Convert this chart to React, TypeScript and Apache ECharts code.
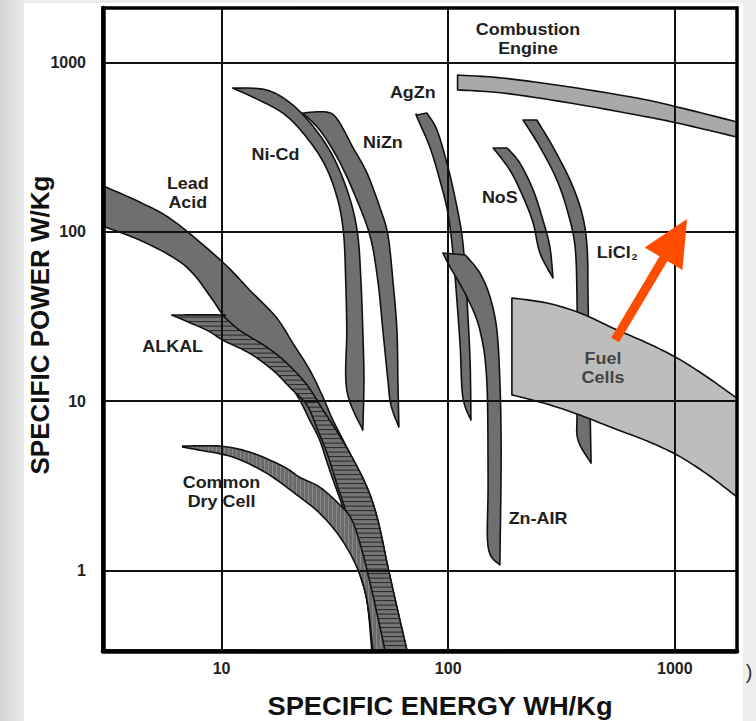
import React, { useEffect, useRef } from 'react';
import * as echarts from 'echarts';

type P = [number, number];

// Axis extents (Wh/kg and W/kg, log scale)
const X_MIN = 3;
const X_MAX = 1880;
const Y_MIN = 0.335;
const Y_MAX = 2100;
const xTicks = [10, 100, 1000];
const yTicks = [1, 10, 100, 1000];

// Outlines of each technology region [specific energy Wh/kg, specific power W/kg]
const leadAcid: P[] = [
  [3, 187], [4.35, 150], [6.09, 117], [10.0, 67.3], [13.3, 45.4], [17.4, 31.4], [20.6, 22.1],
  [24.5, 15.3], [28.0, 10.6], [31.0, 7.74], [36.8, 4.94], [43.8, 3.11], [48.9, 1.99], [54.2, 1.05],
  [59.4, 0.608], [65.7, 0.34],
  [46.0, 0.34], [43.8, 0.669], [39.9, 1.05], [35.7, 1.99], [30.0, 3.92], [27.1, 5.9], [24.5, 7.74],
  [22.1, 10.2], [19.4, 13.3], [15.8, 18.7], [12.0, 25.6], [10.3, 31.4], [9.15, 39.6], [7.46, 57.1],
  [6.09, 71.0], [4.35, 89.5], [3, 108],
];
const alkaline: P[] = [
  [6.03, 32.3], [10.0, 32.3], [10.3, 31.4], [12.0, 26.3], [15.8, 20.9], [19.4, 16.8], [23.8, 12.5],
  [27.7, 9.11], [31.0, 7.23], [36.8, 4.94], [43.8, 3.11], [48.9, 1.99], [54.2, 1.05], [59.4, 0.608],
  [65.7, 0.34],
  [46.5, 0.34], [43.8, 0.669], [39.5, 1.15], [35.7, 2.13], [32.6, 3.11], [29.4, 4.81], [26.6, 6.75],
  [23.8, 9.49], [20.0, 12.1], [16.8, 15.3], [13.3, 19.2], [10.1, 23.0], [8.6, 26.3],
];
const dryCell: P[] = [
  [6.74, 5.43], [9.82, 5.43], [13.3, 5.01], [18.6, 4.14], [22.1, 3.56], [27.1, 3.11], [33.3, 2.44],
  [37.6, 1.99], [41.6, 1.32], [46.0, 0.767], [52.6, 0.34],
  [46.5, 0.34], [43.8, 0.669], [39.5, 1.05], [33.3, 1.58], [27.1, 2.18], [22.1, 2.72], [15.8, 3.76],
  [11.2, 4.68], [8.01, 5.14], [6.74, 5.36],
];
const niCd: P[] = [
  [11.2, 707], [15.8, 689], [20.6, 562], [26.3, 394], [31.6, 266], [36.8, 158], [39.9, 95.8],
  [41.2, 51.9], [42.0, 26.3], [42.5, 13.3], [42.0, 6.75],
  [35.7, 11.6], [35.7, 26.3], [35.3, 51.9], [34.6, 95.8], [32.6, 154], [28.6, 248], [23.3, 373],
  [18.6, 504], [13.7, 626],
];
const niZn: P[] = [
  [22.8, 504], [29.1, 510], [32.6, 458], [37.9, 317], [43.8, 223], [49.9, 140], [54.2, 95.8],
  [57.0, 51.9], [59.4, 26.3], [60.0, 13.3], [60.6, 7.04],
  [55.9, 9.49], [54.2, 13.3], [51.5, 26.3], [48.9, 51.9], [45.1, 95.8], [37.9, 177], [32.3, 277],
  [27.1, 400],
];
const agZn: P[] = [
  [72.8, 490], [80.5, 504], [89.2, 400], [98.7, 255], [107, 161], [115, 95.8], [119, 57.1],
  [122, 33.2], [125, 16.8], [126, 7.74],
  [116, 10.6], [113, 20.9], [109, 41.2], [105, 75.0], [99.7, 129], [91.9, 202], [83.0, 317],
  [72.8, 477],
];
const znAir: P[] = [
  [94.8, 75.0], [119, 73.0], [138, 57.1], [153, 41.2], [164, 26.3], [169, 13.3], [171, 6.75],
  [171, 3.42], [169, 1.08],
  [150, 1.38], [150, 3.42], [148, 13.3], [138, 26.3], [121, 41.2], [102, 62.0],
];
const naS: P[] = [
  [158, 313], [182, 313], [207, 255], [237, 177], [262, 117], [281, 81.4], [290, 53.4],
  [254, 75.0], [237, 113], [214, 161], [187, 232],
];
const liCl2: P[] = [
  [214, 458], [246, 458], [290, 317], [345, 202], [389, 129], [410, 81.4], [414, 41.2],
  [418, 20.9], [423, 8.51], [427, 4.31],
  [374, 5.9], [370, 8.51], [370, 20.9], [370, 41.2], [363, 81.4], [338, 129], [302, 202], [254, 317],
];
const combustion: P[] = [
  [110, 844], [174, 810], [345, 717], [681, 617], [1023, 547], [1880, 446],
  [1880, 363], [1023, 440], [681, 490], [345, 577], [174, 661], [110, 689],
];
const fuelCells: P[] = [
  [191, 40.7], [273, 38.0], [382, 33.2], [534, 27.0], [754, 22.1], [1023, 18.0], [1388, 13.9],
  [1880, 10.4],
  [1880, 2.72], [1388, 3.71], [1023, 4.81], [754, 5.82], [534, 6.94], [382, 8.28], [273, 9.62],
  [191, 10.9],
];
const arrowPath: P[] = [[545, 23.0], [1132, 119]];

// Region labels
const labelTexts = ['Combustion\nEngine', 'AgZn', 'NiZn', 'Ni-Cd', 'Lead\nAcid', 'ALKAL',
  'Common\nDry Cell', 'NoS', 'LiCl2', 'Fuel\nCells', 'Zn-AIR'];
const labelX = [225, 69.8, 51.5, 17.3, 7.1, 6.09, 10.0, 169, 556, 482, 249];
const labelY = [1368, 661, 335, 284, 168, 20.9, 2.89, 158, 75.0, 15.6, 2.01];

const FONT = '"Liberation Sans", Arial, Helvetica, sans-serif';
const BAND = '#6f6f6f';
const OUTLINE = '#111';

// Smooth an outline through its vertices (Catmull-Rom), keeping sharp corners sharp.
function smoothOutline(px: number[][]): number[][] {
  const n = px.length;
  const isCorner = px.map((p, i) => {
    const a = px[(i - 1 + n) % n];
    const c = px[(i + 1) % n];
    const v1x = p[0] - a[0], v1y = p[1] - a[1];
    const v2x = c[0] - p[0], v2y = c[1] - p[1];
    const l1 = Math.hypot(v1x, v1y), l2 = Math.hypot(v2x, v2y);
    if (l1 < 1e-6 || l2 < 1e-6) return true;
    return (v1x * v2x + v1y * v2y) / (l1 * l2) < Math.cos(Math.PI / 4);
  });
  const first = isCorner.indexOf(true);
  if (first < 0) return px;
  const out: number[][] = [];
  let i = first;
  let guard = 0;
  do {
    const run: number[][] = [px[i]];
    let j = (i + 1) % n;
    while (!isCorner[j]) {
      run.push(px[j]);
      j = (j + 1) % n;
    }
    run.push(px[j]);
    for (let k = 0; k < run.length - 1; k++) {
      const p0 = run[k - 1] || run[k];
      const p1 = run[k];
      const p2 = run[k + 1];
      const p3 = run[k + 2] || run[k + 1];
      const c1 = [p1[0] + (p2[0] - p0[0]) / 6, p1[1] + (p2[1] - p0[1]) / 6];
      const c2 = [p2[0] - (p3[0] - p1[0]) / 6, p2[1] - (p3[1] - p1[1]) / 6];
      const steps = run.length > 2 ? 8 : 1;
      for (let s = 0; s < steps; s++) {
        const t = s / steps;
        const u = 1 - t;
        out.push([
          u * u * u * p1[0] + 3 * u * u * t * c1[0] + 3 * u * t * t * c2[0] + t * t * t * p2[0],
          u * u * u * p1[1] + 3 * u * u * t * c1[1] + 3 * u * t * t * c2[1] + t * t * t * p2[1],
        ]);
      }
    }
    i = j;
    guard++;
  } while (i !== first && guard < 1000);
  return out;
}

function hatchLines(pts: number[][], dir: 'h' | 'v', step: number) {
  const out: any[] = [];
  const idx = dir === 'h' ? 1 : 0;
  const oth = dir === 'h' ? 0 : 1;
  const vals = pts.map((p) => p[idx]);
  const lo = Math.min(...vals);
  const hi = Math.max(...vals);
  for (let s = lo + step / 2; s < hi; s += step) {
    const xs: number[] = [];
    for (let i = 0; i < pts.length; i++) {
      const a = pts[i];
      const b = pts[(i + 1) % pts.length];
      if ((a[idx] <= s && b[idx] > s) || (b[idx] <= s && a[idx] > s)) {
        xs.push(a[oth] + ((s - a[idx]) / (b[idx] - a[idx])) * (b[oth] - a[oth]));
      }
    }
    xs.sort((p, q) => p - q);
    for (let k = 0; k + 1 < xs.length; k += 2) {
      out.push(dir === 'h'
        ? { x1: xs[k] + 0.8, y1: s, x2: xs[k + 1] - 0.8, y2: s }
        : { x1: s, y1: xs[k] + 0.8, x2: s, y2: xs[k + 1] - 0.8 });
    }
  }
  return out;
}

function band(name: string, pts: P[], fill: string, hatch?: { dir: 'h' | 'v'; step: number; color: string; width: number }) {
  return {
    type: 'custom',
    name,
    coordinateSystem: 'cartesian2d',
    data: pts,
    encode: { x: 0, y: 1 },
    z: 2,
    silent: true,
    renderItem: (params: any, api: any) => {
      if (params.dataIndex !== 0) return null;
      const px = smoothOutline(pts.map((p) => api.coord(p)));
      const children: any[] = [
        { type: 'polygon', shape: { points: px }, style: { fill, stroke: 'none' } },
      ];
      if (hatch) {
        hatchLines(px, hatch.dir, hatch.step).forEach((l) => {
          children.push({ type: 'line', shape: l, style: { stroke: hatch.color, lineWidth: hatch.width } });
        });
      }
      children.push({
        type: 'polygon',
        shape: { points: px },
        style: { fill: 'none', stroke: OUTLINE, lineWidth: 1.6, lineJoin: 'round' },
      });
      return { type: 'group', children };
    },
  };
}

function isPow10(v: number, list: number[]) {
  return list.some((t) => Math.abs(v - t) / t < 1e-6);
}

function buildOption(): any {
  const labelSeries = {
    type: 'custom',
    name: 'labels',
    coordinateSystem: 'cartesian2d',
    data: labelX.map((x, i) => [x, labelY[i]]),
    encode: { x: 0, y: 1 },
    z: 3,
    silent: true,
    renderItem: (params: any, api: any) => {
      const i = params.dataIndex;
      const pt = api.coord([labelX[i], labelY[i]]);
      const txt = labelTexts[i];
      const isFuel = txt.startsWith('Fuel');
      const base: any = {
        fontSize: 16,
        fontWeight: 'bold',
        fontFamily: FONT,
        fill: isFuel ? '#444' : '#1e1e1e',
        align: 'center',
        verticalAlign: 'middle',
        lineHeight: 19,
      };
      if (txt === 'LiCl2') {
        base.text = '{m|LiCl}{s|2}';
        base.rich = {
          m: { fontSize: 16, fontWeight: 'bold', fontFamily: FONT, fill: '#1e1e1e' },
          s: { fontSize: 9, fontWeight: 'bold', fontFamily: FONT, fill: '#1e1e1e', padding: [7, 0, 0, 1] },
        };
      } else {
        base.text = txt;
      }
      return { type: 'text', x: pt[0], y: pt[1], scaleX: 1.12, style: base };
    },
  };

  const arrowSeries = {
    type: 'custom',
    name: 'trend',
    coordinateSystem: 'cartesian2d',
    data: arrowPath,
    encode: { x: 0, y: 1 },
    z: 20,
    silent: true,
    renderItem: (params: any, api: any) => {
      if (params.dataIndex !== 0) return null;
      const a = api.coord(arrowPath[0]);
      const b = api.coord(arrowPath[1]);
      const dx = b[0] - a[0];
      const dy = b[1] - a[1];
      const len = Math.hypot(dx, dy);
      const ux = dx / len, uy = dy / len;
      const nx = -uy, ny = ux;
      const headLen = 46, headHalf = 22, shaftHalf = 4.6;
      const bx = b[0] - ux * headLen, by = b[1] - uy * headLen;
      const ex = bx + ux * 4, ey = by + uy * 4;
      const color = '#ff4d00';
      return {
        type: 'group',
        children: [
          {
            type: 'polygon',
            shape: {
              points: [
                [a[0] + nx * shaftHalf, a[1] + ny * shaftHalf],
                [ex + nx * shaftHalf, ey + ny * shaftHalf],
                [ex - nx * shaftHalf, ey - ny * shaftHalf],
                [a[0] - nx * shaftHalf, a[1] - ny * shaftHalf],
              ],
            },
            style: { fill: color },
          },
          {
            type: 'polygon',
            shape: {
              points: [
                [b[0], b[1]],
                [bx + nx * headHalf, by + ny * headHalf],
                [bx - nx * headHalf, by - ny * headHalf],
              ],
            },
            style: { fill: color },
          },
        ],
      };
    },
  };

  const axisCommon = {
    type: 'log',
    logBase: 10,
    z: 10,
    axisTick: { show: false },
    minorTick: { show: false },
    splitLine: { show: true, lineStyle: { color: '#111', width: 2 } },
    axisLine: { show: true, onZero: false, lineStyle: { color: '#000', width: 4.5 } },
  };

  return {
    animation: false,
    backgroundColor: 'transparent',
    grid: {
      left: 103,
      right: 19,
      top: 8,
      bottom: 70,
      show: true,
      z: 12,
      backgroundColor: 'transparent',
      borderColor: '#000',
      borderWidth: 3.5,
    },
    xAxis: {
      ...axisCommon,
      min: X_MIN,
      max: X_MAX,
      axisLabel: {
        formatter: (v: number) => (isPow10(v, xTicks) ? String(Math.round(v)) : ''),
        fontSize: 16,
        fontWeight: 'bold',
        fontFamily: FONT,
        color: '#222',
        margin: 9,
      },
    },
    yAxis: {
      ...axisCommon,
      min: Y_MIN,
      max: Y_MAX,
      axisLabel: {
        formatter: (v: number) => (isPow10(v, yTicks) ? String(Math.round(v)) : ''),
        fontSize: 16,
        fontWeight: 'bold',
        fontFamily: FONT,
        color: '#222',
        margin: 17,
      },
    },
    graphic: [
      {
        type: 'text',
        x: 440,
        y: 706,
        scaleX: 1.05,
        z: 30,
        silent: true,
        style: {
          text: 'SPECIFIC ENERGY WH/Kg',
          fontSize: 26,
          fontWeight: 'bold',
          fontFamily: FONT,
          fill: '#111',
          align: 'center',
          verticalAlign: 'middle',
        },
      },
      {
        type: 'text',
        x: 40,
        y: 325,
        rotation: Math.PI / 2,
        z: 30,
        silent: true,
        style: {
          text: 'SPECIFIC POWER W/Kg',
          fontSize: 26,
          fontWeight: 'bold',
          fontFamily: FONT,
          fill: '#111',
          align: 'center',
          verticalAlign: 'middle',
        },
      },
      {
        type: 'text',
        x: 749,
        y: 672,
        z: 30,
        silent: true,
        style: {
          text: ')',
          fontSize: 20,
          fontFamily: FONT,
          fill: '#333',
          align: 'center',
          verticalAlign: 'middle',
        },
      },
    ],
    series: [
      band('Lead Acid', leadAcid, BAND),
      band('ALKAL', alkaline, '#747474', { dir: 'h', step: 4.5, color: '#262626', width: 1 }),
      band('Common Dry Cell', dryCell, '#6a6a6a', { dir: 'v', step: 4, color: '#8e8e8e', width: 1 }),
      band('Ni-Cd', niCd, BAND),
      band('NiZn', niZn, BAND),
      band('AgZn', agZn, BAND),
      band('Zn-AIR', znAir, BAND),
      band('NoS', naS, BAND),
      band('LiCl2', liCl2, BAND),
      band('Combustion Engine', combustion, '#a9a9a9'),
      band('Fuel Cells', fuelCells, '#bdbdbd'),
      labelSeries,
      arrowSeries,
    ],
  };
}

export default function App() {
  const ref = useRef<HTMLDivElement>(null);
  useEffect(() => {
    const chart = echarts.init(ref.current!, null, { renderer: 'svg' });
    chart.setOption(buildOption());
    return () => chart.dispose();
  }, []);
  return (
    <div
      style={{
        position: 'absolute',
        left: 0,
        top: 0,
        width: 756,
        height: 721,
        overflow: 'hidden',
        background: 'linear-gradient(to right, #d4d4d4 0px, #ebebeb 24px, #efefef 100%)',
      }}
    >
      <div style={{ position: 'absolute', left: 24, top: 3, width: 719, height: 718, background: '#fff' }} />
      <div ref={ref} style={{ position: 'absolute', left: 0, top: 0, width: 756, height: 721 }} />
    </div>
  );
}
